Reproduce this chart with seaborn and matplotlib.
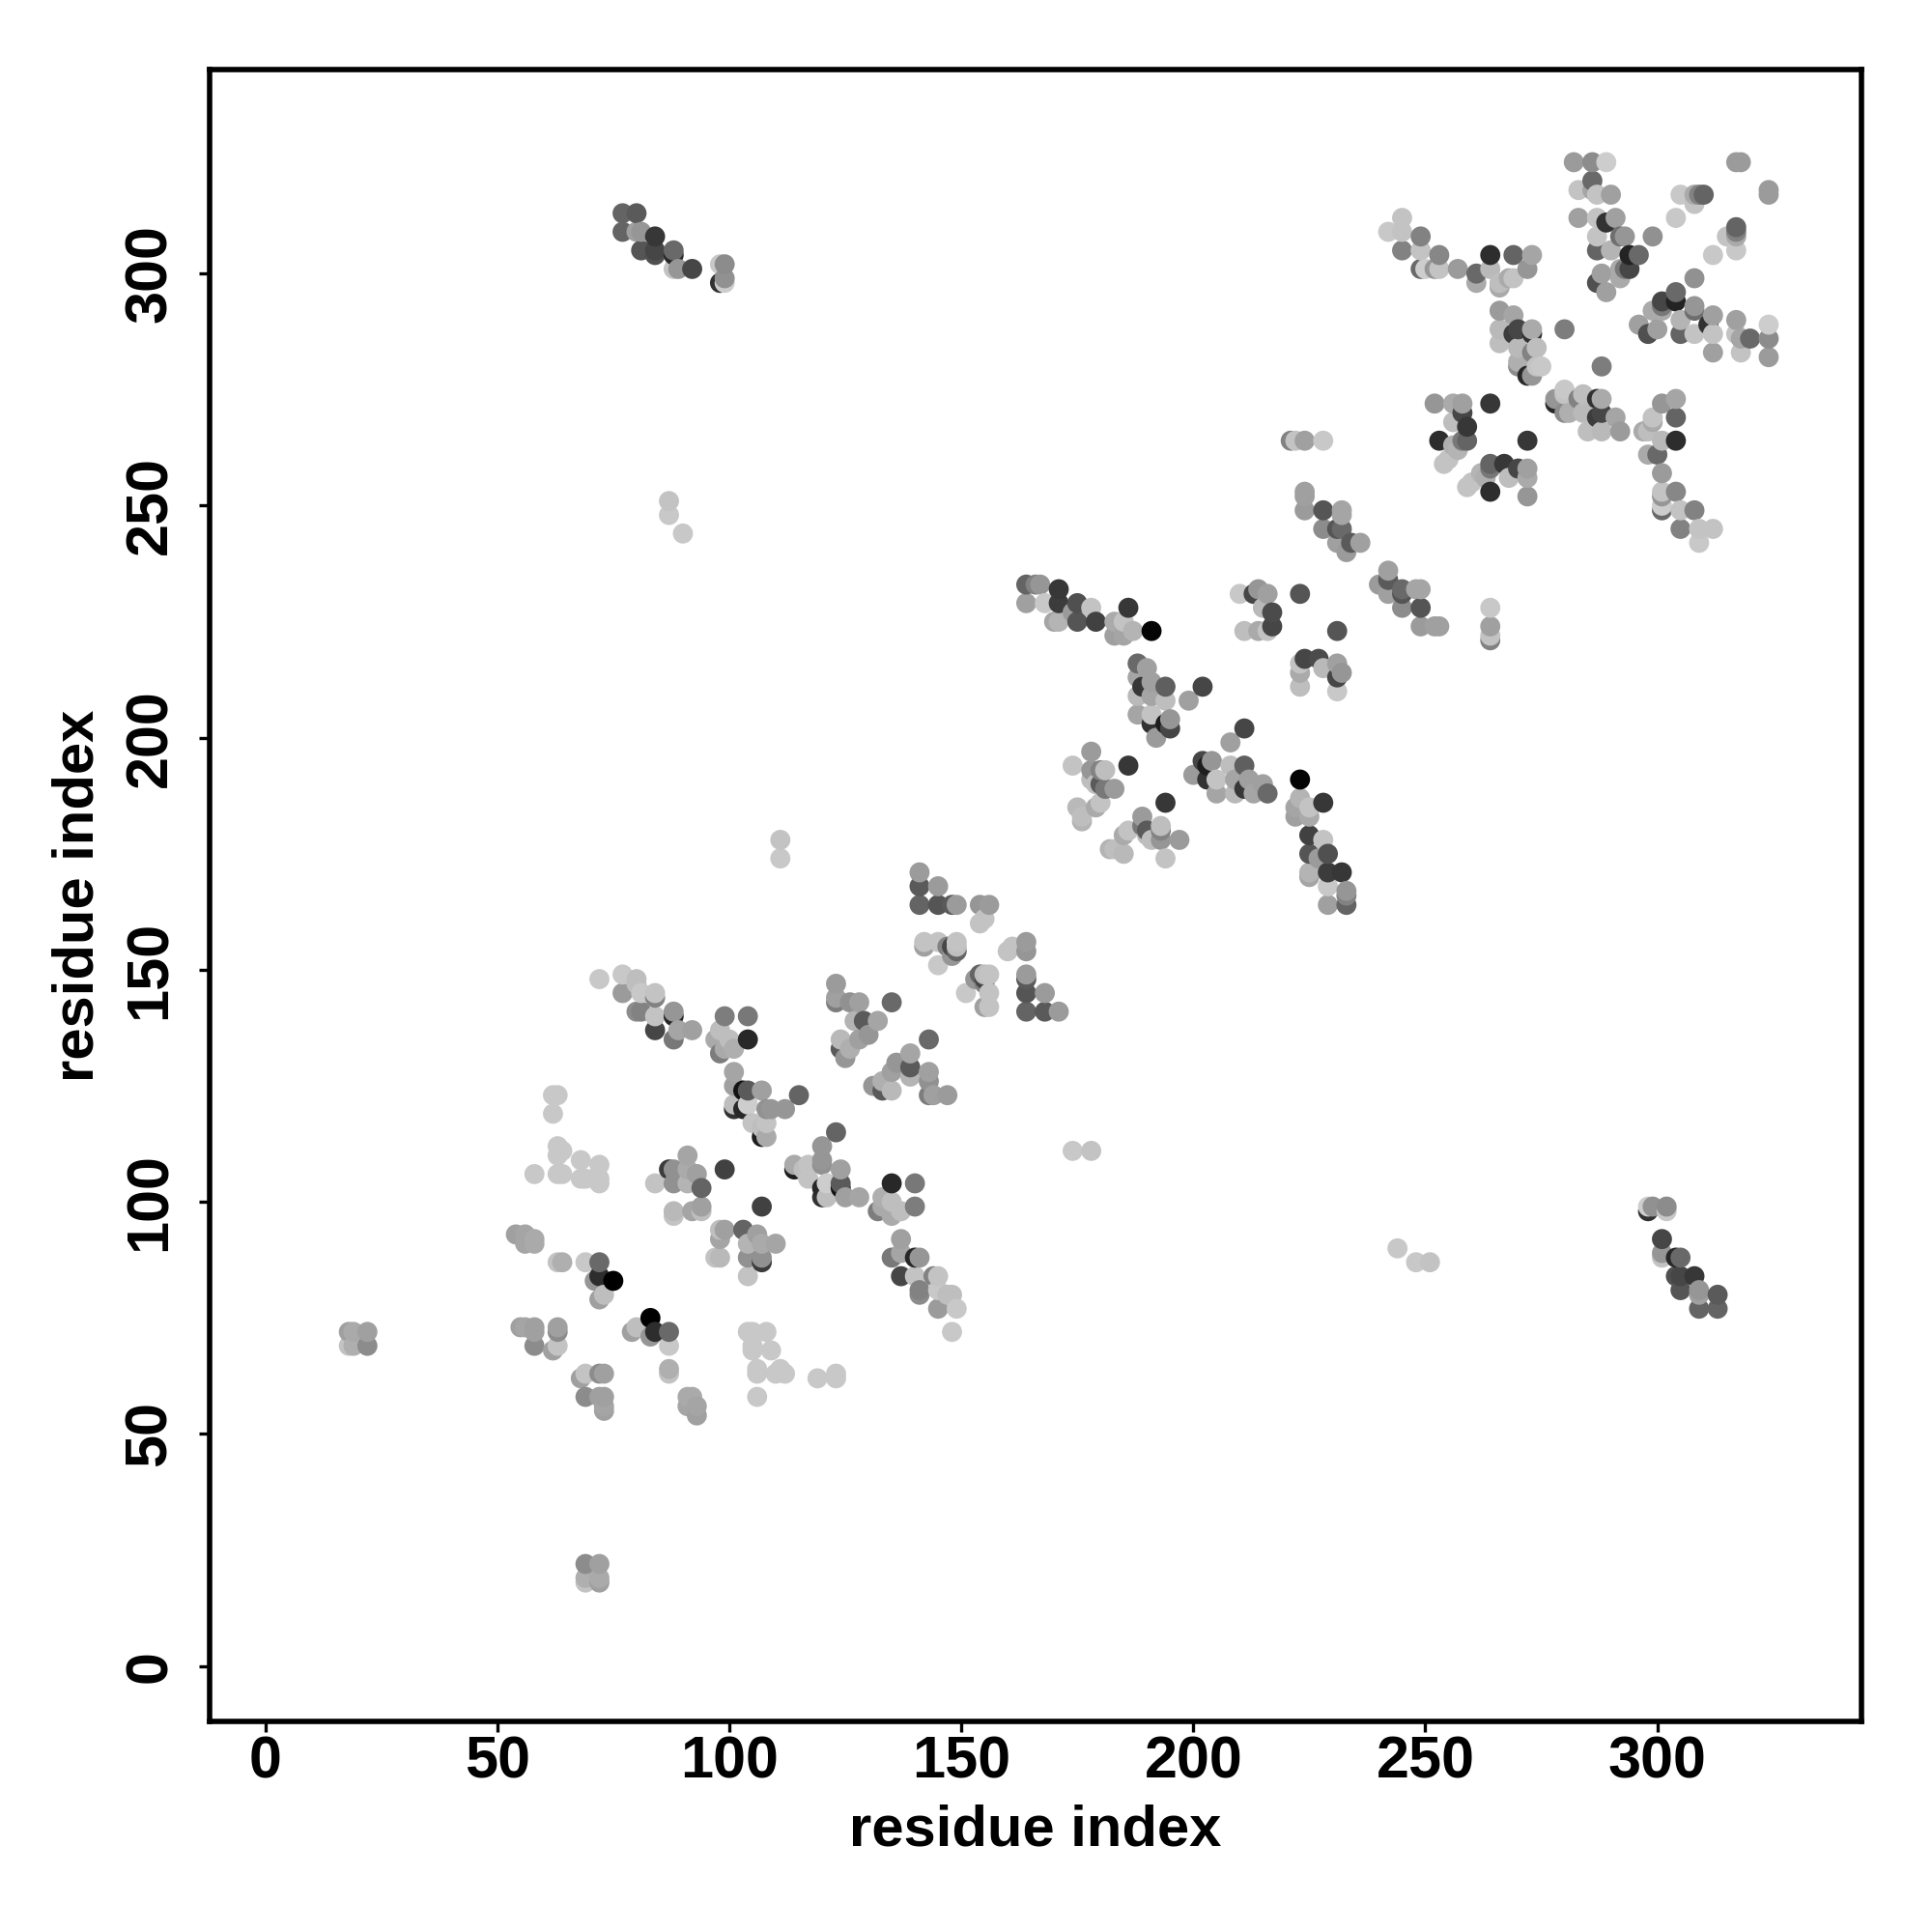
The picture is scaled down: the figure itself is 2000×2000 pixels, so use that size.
import matplotlib
matplotlib.use('Agg')
import matplotlib.pyplot as plt
import pandas as pd
import seaborn as sns

res_i = [
    18, 19, 22, 18, 19, 22,
    54, 56, 56, 58, 58, 63, 64, 69, 72, 71, 72, 75, 72, 73,
    55, 58, 63, 63, 58, 62, 63, 56, 58,
    62, 63, 62, 63, 64, 63, 58, 63, 64, 68, 68, 69, 72, 71, 72, 72,
    99, 98, 103, 98, 106, 110, 104, 107, 98, 97, 104, 107, 107, 104, 99,
    137, 135, 137, 140, 141, 137, 140, 144, 145, 141, 141, 145, 148, 147, 145, 149, 148,
    99, 104, 104, 98, 97, 100, 98, 99, 101,
    101, 101, 103, 104, 107, 115, 101, 101, 104, 103, 108, 112, 105, 107, 108, 107, 108, 109,
    123, 123, 123, 126, 128, 135, 127, 129, 132, 124, 128, 130, 124, 126, 125,
    141, 141, 145, 141, 145, 148, 149, 154, 156, 154, 155, 142, 145, 142, 148, 147, 149, 145, 149, 148, 149,
    111, 111, 87, 87, 90,
    298, 298, 299, 302, 302, 301, 301, 301, 304, 305, 304, 305, 308, 305, 309, 309, 313, 309, 313,
    164, 164, 167, 166, 168, 171, 171, 175, 178, 171, 170, 174, 175, 179, 186, 183, 185, 183, 185, 187, 191,
    210, 213, 214, 216, 215, 217, 211, 217, 216, 214, 223,
    188, 190, 188, 191, 189, 194, 202, 199, 188, 191, 194, 188, 191, 191, 194, 195, 195, 192,
    194, 189, 189, 186, 185, 193, 193, 190, 197, 193, 183, 185, 182, 194, 191, 190,
    221, 222, 224, 228,
    224, 224, 224, 228, 232, 232, 228, 231, 232, 231, 234, 236, 233,
    272, 264, 267, 264, 262, 263, 268, 270, 272, 272, 272, 264, 259, 260,
    278, 280, 280, 278, 283, 284, 287, 288, 280, 281, 284, 287, 288, 285, 288, 291, 292, 280,
    304, 301, 304, 299, 299, 297, 298, 304, 301, 298, 300, 301, 301, 304, 301, 301, 301, 305, 308, 305, 309, 312, 309,
    282, 286, 289, 286, 283, 286, 287, 290, 283, 287, 289, 291, 287, 292, 293, 287, 290, 294, 296, 292, 294, 293, 288, 292, 287, 289, 299,
    305, 308, 308, 309, 310, 317, 318, 304,
]
res_j = [
    72, 72, 72, 69, 69, 69,
    93, 93, 91, 92, 91, 87, 87, 87, 87, 83, 84, 83, 79, 80,
    73, 73, 73, 72, 69, 68, 69, 73, 72,
    123, 123, 119, 112, 111, 110, 106, 106, 106, 109, 105, 105, 108, 105, 105, 104,
    94, 92, 94, 94, 93, 91, 91, 91, 88, 88, 88, 87, 88, 84, 107,
    92, 88, 89, 88, 88, 84, 84, 84, 84, 81, 80, 81, 80, 80, 77, 77, 72,
    140, 140, 135, 137, 135, 135, 132, 133, 133,
    128, 125, 124, 124, 124, 123, 121, 120, 121, 120, 120, 120, 117, 116, 117, 114, 114, 120,
    147, 144, 143, 143, 143, 143, 139, 139, 139, 135, 135, 136, 133, 133, 131,
    171, 168, 168, 164, 164, 164, 164, 164, 164, 160, 161, 156, 156, 155, 155, 155, 156, 151, 154, 153, 155,
    178, 174, 251, 248, 244,
    99, 98, 99, 99, 98, 92, 89, 88, 88, 88, 84, 84, 84, 81, 81, 80, 80, 77, 77,
    233, 229, 233, 233, 229, 232, 229, 229, 228, 225, 225, 227, 225, 225, 228, 225, 225, 222, 222, 223, 223,
    231, 231, 232, 231, 228, 227, 223, 224, 223, 223, 231,
    216, 215, 213, 212, 211, 211, 211, 208, 209, 209, 208, 205, 205, 203, 203, 204, 202, 200,
    186, 183, 181, 180, 179, 180, 181, 179, 178, 178, 176, 175, 176, 174, 178, 180,
    264, 264, 264, 264,
    253, 252, 249, 249, 249, 248, 245, 245, 245, 242, 242, 242, 240,
    264, 259, 259, 258, 257, 256, 256, 258, 258, 256, 252, 253, 254, 255,
    272, 275, 274, 273, 273, 274, 273, 273, 270, 270, 270, 269, 270, 266, 266, 269, 266, 288,
    273, 272, 269, 269, 268, 266, 266, 264, 264, 261, 261, 257, 253, 253, 252, 249, 250, 249, 249, 245, 245, 245, 242,
    324, 324, 324, 320, 318, 318, 317, 317, 312, 312, 311, 312, 308, 308, 308, 305, 305, 304, 304, 301, 301, 301, 300, 299, 298, 296, 308,
    317, 317, 315, 317, 317, 324, 324, 312,
]
shade = [
    160, 170, 160, 195, 175, 140,
    160, 165, 165, 170, 170, 195, 175, 200, 105, 150, 45, 0, 160, 190,
    160, 160, 160, 140, 140, 160, 195, 165, 160,
    200, 200, 200, 200, 200, 200, 200, 200, 200, 200, 200, 200, 200, 200, 200, 200,
    160, 165, 100, 190, 160, 165, 180, 170, 185, 195, 145, 60, 145, 195, 65,
    160, 120, 165, 40, 150, 70, 195, 130, 195, 130, 140, 200, 190, 190, 155, 200, 200,
    125, 120, 40, 190, 170, 190, 125, 170, 175,
    165, 160, 20, 90, 160, 100, 190, 50, 205, 40, 145, 150, 195, 190, 195, 30, 170, 150,
    155, 160, 125, 145, 160, 105, 180, 90, 165, 185, 160, 150, 90, 175, 150,
    155, 90, 155, 100, 85, 90, 155, 150, 155, 195, 195, 195, 195, 160, 70, 130, 195, 200, 100, 150, 190,
    195, 200, 195, 200, 200,
    205, 50, 145, 140, 200, 70, 150, 195, 40, 105, 80, 70, 55, 85, 150, 160, 90, 100, 100,
    100, 160, 150, 130, 200, 55, 60, 80, 195, 180, 165, 155, 85, 65, 55, 170, 195, 160, 165, 180, 5,
    200, 70, 150, 160, 185, 75, 190, 70, 195, 170, 85,
    105, 160, 165, 160, 55, 95, 70, 160, 185, 165, 190, 165, 195, 50, 30, 150, 70, 155,
    55, 155, 120, 195, 170, 130, 190, 190, 155, 150, 190, 185, 180, 195, 190, 90,
    130, 195, 160, 200,
    160, 160, 155, 85, 165, 165, 140, 85, 105, 160, 90, 160, 155,
    55, 100, 55, 120, 180, 175, 190, 70, 160, 170, 150, 45, 195, 195,
    40, 200, 195, 150, 130, 190, 50, 170, 140, 175, 185, 60, 70, 190, 185, 165, 155, 125,
    165, 150, 100, 195, 170, 170, 190, 45, 185, 170, 105, 155, 195, 135, 150, 105, 205, 195, 130, 130, 195, 195, 200,
    155, 140, 205, 105, 195, 165, 195, 160, 160, 195, 50, 160, 195, 110, 150, 100, 180, 35, 105, 170, 70, 120, 160, 170, 80, 160, 145,
    200, 170, 195, 130, 100, 155, 155, 200,
]
tick_vals = [0, 50, 100, 150, 200, 250, 300]

plt.rcParams['font.family'] = ['Liberation Sans', 'DejaVu Sans']

# the map is symmetric, each contact shows up on both sides of the diagonal
upper = pd.DataFrame({'x': res_i, 'y': res_j, 'shade': shade})
lower = pd.DataFrame({'x': res_j, 'y': res_i, 'shade': shade})
contacts = pd.concat([upper, lower], ignore_index=True)
# original overplots left to right, then bottom to top
contacts = contacts.sort_values(['x', 'y'])
palette = {s: str(s / 255) for s in contacts['shade'].unique()}

fig = plt.figure(figsize=(10, 10), dpi=200)
ax = fig.add_axes([0.1085, 0.1088, 0.855, 0.8553])
sns.scatterplot(
    data=contacts,
    x='x',
    y='y',
    hue='shade',
    palette=palette,
    s=56,
    linewidth=0,
    legend=False,
    ax=ax
)
ax.set_xlim(-12, 344)
ax.set_ylim(-12, 344)
ax.set_xticks(tick_vals)
ax.set_yticks(tick_vals)
ax.tick_params(axis='both', length=4, width=1.2, labelsize=22)
ax.tick_params(axis='x', pad=1)
ax.tick_params(axis='y', pad=7.5)
for lab in ax.get_xticklabels():
    lab.set_fontweight('bold')
for lab in ax.get_yticklabels():
    lab.set_fontweight('bold')
    lab.set_rotation(90)
    lab.set_va('center')
for sp in ax.spines.values():
    sp.set_linewidth(2.0)
ax.set_xlabel('residue index', fontsize=21.5, fontweight='bold', labelpad=5)
ax.set_ylabel('residue index', fontsize=21.5, fontweight='bold', labelpad=7)

fig.savefig('out.png', dpi=200)
